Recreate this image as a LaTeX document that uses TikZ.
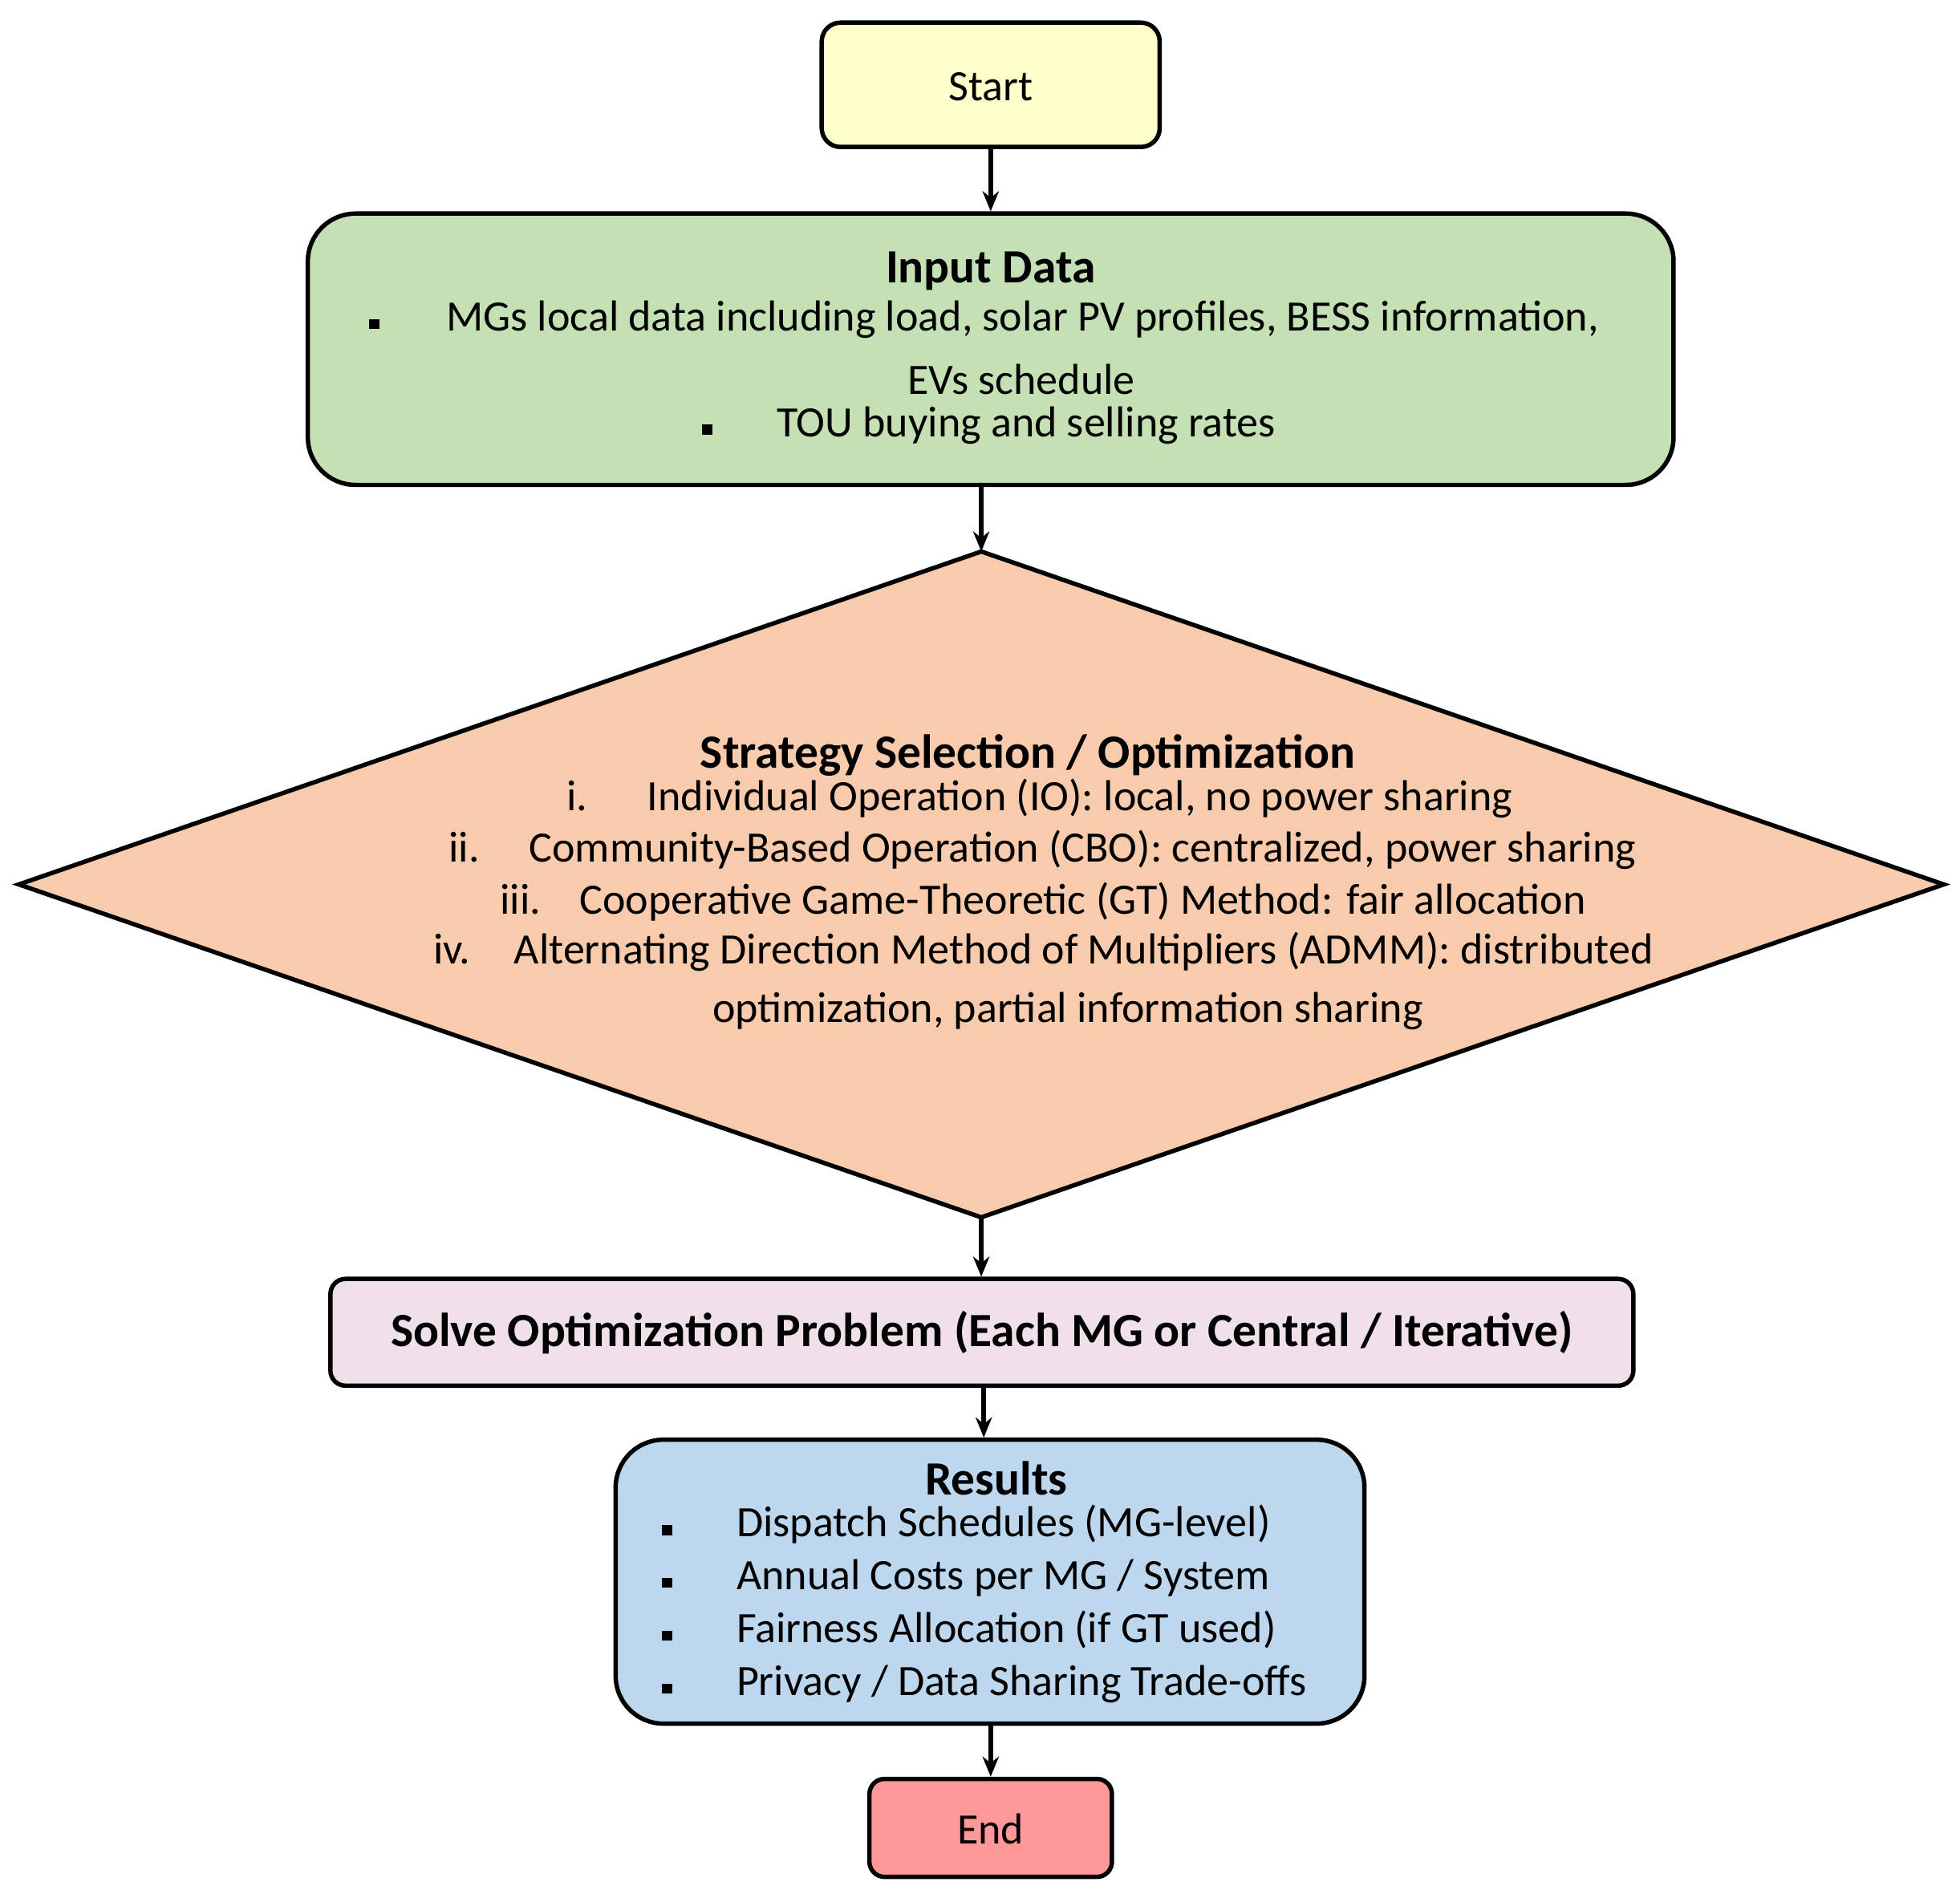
\documentclass[tikz,border=0pt]{standalone}
\usepackage{fontspec}
\setmainfont{Carlito}
\usetikzlibrary{arrows.meta}
\begin{document}
\begin{tikzpicture}[x=1pt,y=-1pt,
  box/.style={draw=black,line width=3.5pt,inner sep=0pt},
  txt/.style={font=\fontsize{34.5}{40}\selectfont,inner sep=0pt},
  ttl/.style={font=\fontsize{38}{44}\selectfont\bfseries,inner sep=0pt},
  bl/.style={inner sep=0pt,fill=black,minimum size=8pt},
  arr/.style={line width=3.5pt,-{Stealth[length=16pt,width=13pt]}}]
\useasboundingbox (0,0) rectangle (1560,1504);
\definecolor{cS}{HTML}{FFFFCC}\definecolor{cI}{HTML}{C5E0B4}
\definecolor{cD}{HTML}{F8CBAD}\definecolor{cO}{HTML}{F0E0EA}
\definecolor{cR}{HTML}{BDD7EE}\definecolor{cE}{HTML}{FF9999}
\node[box,fill=cS,rounded corners=15pt,minimum width=269pt,minimum height=99pt] (start) at (788.5,67.5) {};
\node[txt] (tstart) at (788.5,69) {Start};
\node[box,fill=cI,rounded corners=38pt,minimum width=1087pt,minimum height=216pt] (input) at (788.5,278) {};
\node[ttl] (tin) at (788.5,216) {Input Data};
\node[bl] (b1) at (298,258) {};
\node[txt,anchor=mid west] (l1) at (355,261) {MGs local data including load, solar PV profiles, BESS information,};
\node[txt] (l2) at (813,302) {EVs schedule};
\node[bl] (b2) at (563,342) {};
\node[txt,anchor=mid west] (l3) at (618,345) {TOU buying and selling rates};
\coordinate (dt) at (781,439); \coordinate (db) at (781,969);
\filldraw[fill=cD,draw=black,line width=3.5pt,line join=miter] (dt) -- (1547,704) -- (db) -- (15,704) -- cycle;
\node[ttl] (tdia) at (818,601) {Strategy Selection / Optimization};
\node[txt,anchor=mid west] (n1) at (451,643) {i.};
\node[txt,anchor=mid west] (d1) at (515,643) {Individual Operation (IO): local, no power sharing};
\node[txt,anchor=mid west] (n2) at (357,684) {ii.};
\node[txt,anchor=mid west] (d2) at (421,684) {Community-Based Operation (CBO): centralized, power sharing};
\node[txt,anchor=mid west] (n3) at (398,725) {iii.};
\node[txt,anchor=mid west] (d3) at (461,725) {Cooperative Game-Theoretic (GT) Method: fair allocation};
\node[txt,anchor=mid west] (n4) at (345,765) {iv.};
\node[txt,anchor=mid west] (d4) at (409,765) {Alternating Direction Method of Multipliers (ADMM): distributed};
\node[txt] (d5) at (850,805) {optimization, partial information sharing};
\node[box,fill=cO,rounded corners=12pt,minimum width=1037pt,minimum height=85pt] (solve) at (781.5,1060.5) {};
\node[ttl] (tsolve) at (781.5,1061) {Solve Optimization Problem (Each MG or Central / Iterative)};
\node[box,fill=cR,rounded corners=38pt,minimum width=596pt,minimum height=226pt] (res) at (788,1259) {};
\node[ttl] (tres) at (793,1177) {Results};
\foreach \y/\t [count=\i] in {1221/{Dispatch Schedules (MG-level)},1263/{Annual Costs per MG / System},1305/{Fairness Allocation (if GT used)},1347/{Privacy / Data Sharing Trade-offs}}{
  \node[bl] (rb\i) at (531,\y-3) {};
  \node[txt,anchor=mid west] (rt\i) at (586,\y) {\t};
}
\node[box,fill=cE,rounded corners=12pt,minimum width=193pt,minimum height=78pt] (end) at (788.5,1455) {};
\node[txt] (tend) at (788.5,1456) {End};
\draw[arr] (start.south) -- (input.north -| start.south);
\draw[arr] (input.south -| dt) -- (dt);
\draw[arr] (db) -- (solve.north -| db);
\draw[arr] (solve.south -| 783,0) -- (res.north -| 783,0);
\draw[arr] (res.south -| end.north) -- (end.north);
\end{tikzpicture}
\end{document}
